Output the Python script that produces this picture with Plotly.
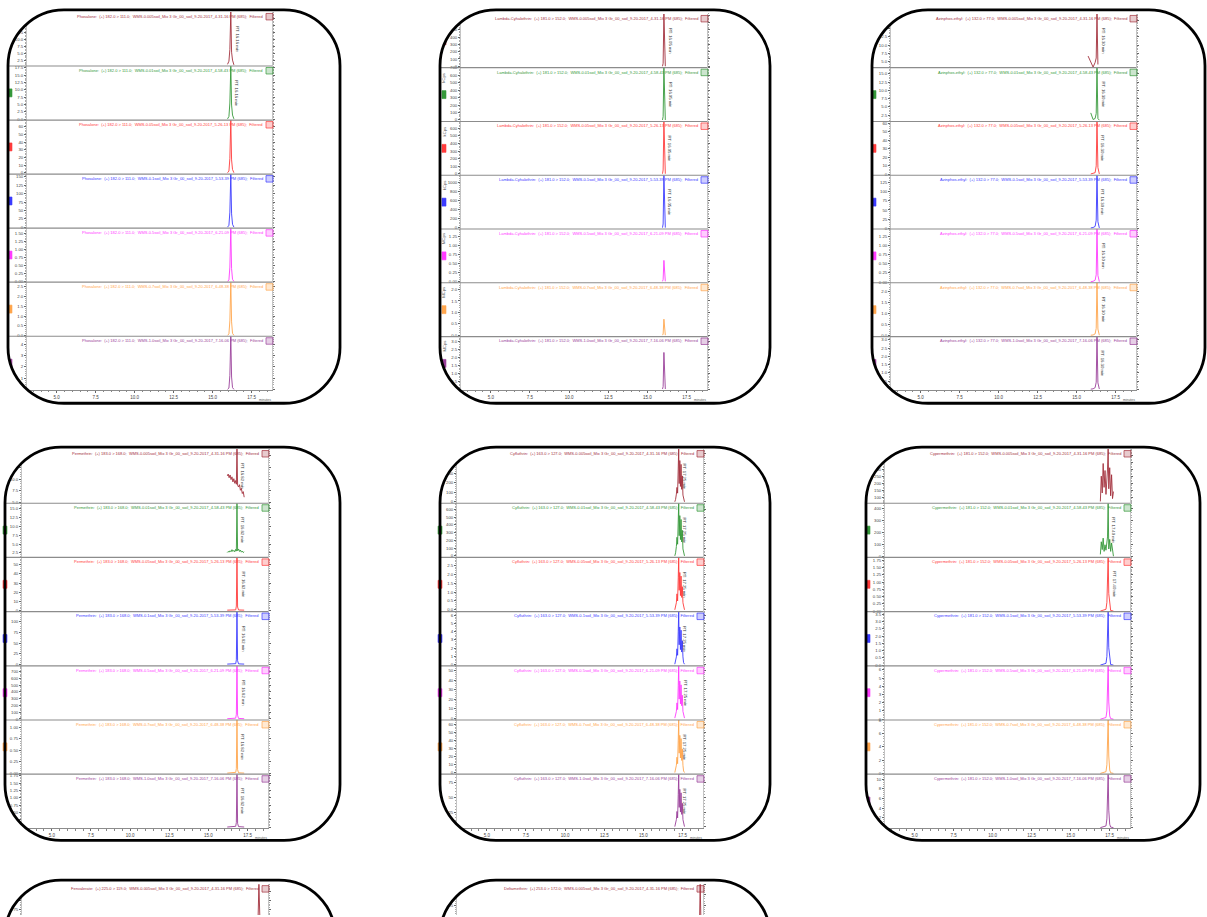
import plotly.graph_objects as go

W, H = 1207, 917

# ---------------- shared settings ----------------
time_range = [3.1, 18.8]
time_ticks = [5.0, 7.5, 10.0, 12.5, 15.0, 17.5]

samples = ["WMS-0.005soil", "WMS-0.01soil", "WMS-0.05soil", "WMS-0.1soil",
           "WMS-0.5soil", "WMS-0.7soil", "WMS-1.0soil"]
acquired = ["4-31-16 PM", "4-58-43 PM", "5-26-13 PM", "5-53-39 PM",
            "6-21-09 PM", "6-48-38 PM", "7-16-06 PM"]
trace_colors = ["#a3303c", "#35993a", "#ff3b3b", "#3b3bff",
                "#ff3bff", "#ffa64d", "#9a3f9a"]

# ---------------- Phosalone ----------------
phosalone_rt = 16.16
phosalone_times = [15.95, 16.04, 16.10, 16.16, 16.21, 16.27, 16.36]
phosalone_counts = [
    [1.2, 2.3, 6.5, 19.8, 5.5, 2.7, 1.0],
    [0.1, 0.9, 5.5, 18.1, 4.8, 1.4, 0.1],
    [0.3, 2.5, 19.0, 69.0, 17.0, 4.5, 0.3],
    [0.5, 6.0, 45.0, 158.0, 40.0, 9.0, 0.5],
    [0.004, 0.05, 0.45, 1.66, 0.40, 0.07, 0.004],
    [0.006, 0.08, 0.75, 2.74, 0.70, 0.11, 0.006],
    [0.01, 0.13, 1.25, 4.7, 1.1, 0.17, 0.01],
]
phosalone_units = ["kCps", "kCps", "kCps", "kCps", "MCps", "MCps", "MCps"]
phosalone_step = [2.5, 2.5, 10, 25, 0.25, 0.5, 1]
phosalone_floor = [0.6, -0.3, -1.5, -2.5, -0.02, -0.04, -0.07]
phosalone_ceiling = [None] * 7

# ---------------- Lambda-Cyhalothrin ----------------
lambda_rt = 16.05
lambda_times = [15.96, 16.00, 16.05, 16.09, 16.14]
lambda_counts = [
    [0, 40, 720, 60, 0],
    [0, 45, 700, 55, 0],
    [0, 50, 690, 60, 0],
    [0, 80, 1150, 90, 0],
    [0, 0.05, 0.58, 0.06, 0],
    [0, 0.05, 0.70, 0.06, 0],
    [0, 0.15, 2.30, 0.18, 0],
]
lambda_units = ["kCps", "kCps", "kCps", "kCps", "MCps", "MCps", "MCps"]
lambda_step = [100, 100, 100, 200, 0.25, 0.5, 0.5]
lambda_floor = [-20, -20, -20, -30, -0.04, -0.06, -0.08]
lambda_ceiling = [None, None, None, None, 1.45, 2.3, 3.3]

# ---------------- Azinphos-ethyl ----------------
azinphos_rt = 16.30
azinphos_times = [15.73, 15.90, 16.05, 16.18, 16.25, 16.30, 16.36, 16.45]
azinphos_counts = [
    [6.6, 5.0, 3.2, 4.6, 6.0, 19.6, 4.0, None],
    [None, 3.2, 1.2, 1.5, 3.0, 16.9, 1.5, 1.0],
    [None, 0.5, 1.0, 2.0, 10.0, 62.0, 8.0, 0.5],
    [None, 1.0, 2.0, 5.0, 22.0, 145.0, 18.0, 1.0],
    [None, 0.01, 0.02, 0.05, 0.20, 1.45, 0.18, 0.01],
    [None, 0.02, 0.03, 0.08, 0.33, 2.40, 0.30, 0.02],
    [None, 0.02, 0.04, 0.11, 0.44, 3.20, 0.40, 0.03],
]
azinphos_units = ["kCps", "kCps", "kCps", "kCps", "MCps", "MCps", "MCps"]
azinphos_step = [2.5, 2.5, 10, 25, 0.25, 0.5, 0.5]
azinphos_floor = [3.0, 0.6, -1.0, -2.0, -0.02, -0.04, -0.05]
azinphos_ceiling = [None] * 7

# ---------------- Permethrin ----------------
permethrin_rt = 16.82
permethrin_times = [16.20, 16.26, 16.32, 16.38, 16.44, 16.50, 16.56, 16.62, 16.68, 16.74,
                    16.78, 16.82, 16.86, 16.92, 16.98, 17.04, 17.10, 17.16, 17.22, 17.28]
permethrin_counts = [
    [10.7, 11.1, 10.3, 10.9, 9.9, 10.5, 9.4, 10.1, 9.1, 9.7,
     8.9, 16.5, 8.7, 8.3, 8.8, 7.6, 8.0, 6.9, 7.3, 6.1],
    [2.6, 2.9, 2.7, 3.1, 2.8, 3.4, 2.9, 3.2, 2.8, 3.5,
     3.0, 16.6, 3.1, 3.6, 2.9, 3.3, 2.7, 3.0, 2.6, 2.8],
    [0.6, None, None, None, None, None, None, None, None, 0.9,
     5.0, 57.8, 4.0, 0.8, None, None, None, None, None, 0.6],
    [1.0, None, None, None, None, None, None, None, None, 2.0,
     11.0, 124.0, 9.0, 1.5, None, None, None, None, None, 1.0],
    [4, None, None, None, None, None, None, None, None, 12,
     70, 785, 55, 8, None, None, None, None, None, 4],
    [0.004, None, None, None, None, None, None, None, None, 0.02,
     0.10, 1.16, 0.08, 0.01, None, None, None, None, None, 0.004],
    [0.006, None, None, None, None, None, None, None, None, 0.03,
     0.16, 1.80, 0.13, 0.02, None, None, None, None, None, 0.006],
]
permethrin_units = ["kCps", "kCps", "kCps", "kCps", "kCps", "MCps", "MCps"]
permethrin_step = [2.5, 2.5, 10, 25, 100, 0.25, 0.25]
permethrin_floor = [4.8, 1.2, -1.0, -3.0, -15.0, -0.02, -0.04]
permethrin_ceiling = [None] * 7

# ---------------- Cyfluthrin ----------------
cyfluthrin_rt = 17.25
cyfluthrin_times = [17.00, 17.05, 17.10, 17.14, 17.18, 17.22, 17.25, 17.28,
                    17.32, 17.36, 17.40, 17.44, 17.48, 17.52, 17.56, 17.62]
cyfluthrin_counts = [
    [0, 25, 80, 150, 90, 310, 550, 190, 430, 160, 390, 130, 270, 70, 25, 0],
    [0, 40, 120, 240, 150, 420, 680, 260, 520, 210, 470, 180, 330, 90, 30, 0],
    [0, 0.15, 0.4, 0.9, 0.5, 1.8, 2.95, 1.1, 2.1, 0.8, 1.9, 0.7, 1.3, 0.4, 0.1, 0],
    [0, 0.3, 0.9, 1.9, 1.1, 4.0, 6.5, 2.4, 4.6, 1.8, 4.2, 1.5, 2.9, 0.9, 0.2, 0],
    [0, 3, 7, 16, 9, 34, 55, 20, 39, 15, 35, 13, 24, 7, 2, 0],
    [0, 3, 9, 19, 11, 40, 65, 24, 46, 18, 42, 15, 29, 9, 2, 0],
    [0, 4, 12, 26, 15, 55, 90, 33, 64, 25, 58, 21, 40, 12, 3, 0],
]
cyfluthrin_units = ["kCps"] * 7
cyfluthrin_step = [100, 100, 0.5, 1, 10, 10, 25]
cyfluthrin_floor = [-15, -20, -0.1, -0.2, -2, -2, -3]
cyfluthrin_ceiling = [None] * 7

# ---------------- Cypermethrin ----------------
cypermethrin_rt = 17.40
cypermethrin_times = [16.90, 16.96, 17.02, 17.08, 17.14, 17.20, 17.26, 17.32,
                      17.36, 17.40, 17.44, 17.50, 17.56, 17.62, 17.68, 17.74]
cypermethrin_counts = [
    [70, 250, 130, 340, 170, 290, 120, 210, 300, 443, 160, 310, 110, 260, 90, 140],
    [15, 120, 55, 150, 40, 95, 50, 130, 160, 440, 60, 140, 40, 110, 30, 0],
    [0, None, None, None, None, None, 0.06, 0.30, 0.90, 1.85, 0.60, 0.12, 0.02, None, None, 0],
    [0, None, None, None, None, None, 0.12, 0.60, 1.80, 3.70, 1.20, 0.24, 0.04, None, None, 0],
    [0, None, None, None, None, None, 0.2, 1.0, 3.1, 6.5, 2.1, 0.4, 0.07, None, None, 0],
    [0, None, None, None, None, None, 0.25, 1.3, 3.9, 8.0, 2.6, 0.5, 0.09, None, None, 0],
    [0, None, None, None, None, None, 0.35, 1.8, 5.3, 11.0, 3.6, 0.7, 0.12, None, None, 0],
]
cypermethrin_units = ["kCps", "kCps", "MCps", "MCps", "MCps", "MCps", "MCps"]
cypermethrin_step = [50, 100, 0.25, 0.5, 1, 2, 2]
cypermethrin_floor = [57, -10, -0.02, -0.05, -0.1, -0.12, -0.15]
cypermethrin_ceiling = [None] * 7

# ---------------- Fenvalerate / Deltamethrin (first trace only) ----------------
fenvalerate_rt = 18.22
fenvalerate_times = [18.05, 18.15, 18.22, 18.30, 18.40]
fenvalerate_counts = [[0, 0.2, 1.46, 0.2, 0]]
fenvalerate_units = ["MCps"]
fenvalerate_step = [0.25]
fenvalerate_floor = [-0.05]
fenvalerate_ceiling = [None]

deltamethrin_rt = 18.62
deltamethrin_times = [18.50, 18.57, 18.62, 18.68, 18.75]
deltamethrin_counts = [[0, 3, 25, 3, 0]]
deltamethrin_units = ["kCps"]
deltamethrin_step = [5]
deltamethrin_floor = [-0.5]
deltamethrin_ceiling = [None]

panels = [
    dict(name="Phosalone", mrm="182.0 > 111.0", rt=phosalone_rt, times=phosalone_times,
         counts=phosalone_counts, units=phosalone_units, step=phosalone_step,
         floor=phosalone_floor, ceiling=phosalone_ceiling, rt_strips=[0, 1]),
    dict(name="Lambda-Cyhalothrin", mrm="181.0 > 152.0", rt=lambda_rt, times=lambda_times,
         counts=lambda_counts, units=lambda_units, step=lambda_step,
         floor=lambda_floor, ceiling=lambda_ceiling, rt_strips=[0, 1, 2, 3]),
    dict(name="Azinphos-ethyl", mrm="132.0 > 77.0", rt=azinphos_rt, times=azinphos_times,
         counts=azinphos_counts, units=azinphos_units, step=azinphos_step,
         floor=azinphos_floor, ceiling=azinphos_ceiling, rt_strips=list(range(7))),
    dict(name="Permethrin", mrm="183.0 > 168.0", rt=permethrin_rt, times=permethrin_times,
         counts=permethrin_counts, units=permethrin_units, step=permethrin_step,
         floor=permethrin_floor, ceiling=permethrin_ceiling, rt_strips=list(range(7))),
    dict(name="Cyfluthrin", mrm="163.0 > 127.0", rt=cyfluthrin_rt, times=cyfluthrin_times,
         counts=cyfluthrin_counts, units=cyfluthrin_units, step=cyfluthrin_step,
         floor=cyfluthrin_floor, ceiling=cyfluthrin_ceiling, rt_strips=list(range(7))),
    dict(name="Cypermethrin", mrm="181.0 > 152.0", rt=cypermethrin_rt, times=cypermethrin_times,
         counts=cypermethrin_counts, units=cypermethrin_units, step=cypermethrin_step,
         floor=cypermethrin_floor, ceiling=cypermethrin_ceiling, rt_strips=[1, 2]),
    dict(name="Fenvalerate", mrm="225.0 > 119.0", rt=fenvalerate_rt, times=fenvalerate_times,
         counts=fenvalerate_counts, units=fenvalerate_units, step=fenvalerate_step,
         floor=fenvalerate_floor, ceiling=fenvalerate_ceiling, rt_strips=[]),
    dict(name="Deltamethrin", mrm="253.0 > 172.0", rt=deltamethrin_rt, times=deltamethrin_times,
         counts=deltamethrin_counts, units=deltamethrin_units, step=deltamethrin_step,
         floor=deltamethrin_floor, ceiling=deltamethrin_ceiling, rt_strips=[]),
]

# frame (left, top, right, bottom), plot left/right, first strip top, last strip bottom  [px]
frames = [
    (8, 8, 340, 403, 27, 272, 10, 390),
    (440, 8, 770, 403, 461, 707, 12, 390),
    (872, 8, 1205, 403, 891, 1136, 12, 390),
    (5, 447, 340, 842, 22, 268, 449, 830),
    (440, 447, 770, 842, 457, 703, 449, 830),
    (866, 447, 1200, 842, 885, 1130, 449, 830),
    (5, 882, 335, 1277, 22, 268, 886, 1266),
    (440, 882, 770, 1277, 457, 703, 886, 1266),
]
RADIUS = 56
FONT = "Liberation Sans, Arial, sans-serif"


def fx(px):
    return px / W


def fy(py):
    return 1 - py / H


def pt(x, y):
    return f"{fx(x):.5f},{fy(y):.5f}"


def inside(frame, x, y):
    l, t, r, b = frame[:4]
    rad = RADIUS
    cx = min(max(x, l + rad), r - rad)
    cy = min(max(y, t + rad), b - rad)
    return (x - cx) ** 2 + (y - cy) ** 2 <= rad ** 2 and l <= x <= r and t <= y <= b


def rgba(hex_color, a):
    h = hex_color.lstrip("#")
    return f"rgba({int(h[0:2], 16)},{int(h[2:4], 16)},{int(h[4:6], 16)},{a})"


def decimals(step):
    s = f"{step}"
    return len(s.split(".")[1]) if "." in s and not s.endswith(".0") else 0


fig = go.Figure()
layout = {}
shapes_low, shapes_high, annotations = [], [], []

n = 0
for panel, frame in zip(panels, frames):
    l, t, r, b, pl, pr, st, sb = frame
    sh = (sb - st) / 7
    for i, vals in enumerate(panel["counts"]):
        top_px = st + i * sh
        bot_px = top_px + sh
        if top_px >= H:
            break
        n += 1
        xa = "x" if n == 1 else f"x{n}"
        ya = "y" if n == 1 else f"y{n}"
        color = trace_colors[i]
        lo = panel["floor"][i]
        hi = panel["ceiling"][i]
        if hi is None:
            hi = max(v for v in vals if v is not None)
        vis_bot = min(bot_px, H)
        if bot_px > H:
            lo = hi - (hi - lo) * (H - top_px) / sh

        fig.add_trace(go.Scatter(
            x=panel["times"], y=vals, mode="lines", connectgaps=True,
            line=dict(color=color, width=0.9), xaxis=xa, yaxis=ya,
            showlegend=False, hoverinfo="skip"))

        last = (i == 6)
        xaxis = dict(domain=[fx(pl), fx(pr)], range=time_range, anchor=ya,
                     showgrid=False, zeroline=False, fixedrange=True)
        if last:
            xaxis.update(showline=True, linecolor="#8c8c8c", linewidth=1,
                         ticks="outside", ticklen=2, tickwidth=0.6, tickcolor="#666",
                         tickvals=time_ticks, tickformat=".1f",
                         tickfont=dict(family=FONT, size=4.5, color="#444"),
                         minor=dict(ticks="outside", ticklen=1.2, dtick=0.5,
                                    tickcolor="#888", tickwidth=0.6))
        else:
            xaxis.update(showline=False, showticklabels=False, ticks="")
        step = panel["step"][i]
        yaxis = dict(domain=[fy(vis_bot), fy(top_px)], range=[lo, hi], anchor=xa,
                     showgrid=False, zeroline=False, fixedrange=True,
                     showline=True, linecolor="#c4c4c4", linewidth=0.8, mirror="ticks",
                     ticks="outside", ticklen=2, tickwidth=0.6, tickcolor="#666",
                     dtick=step, tick0=0, tickformat=f".{decimals(step)}f",
                     tickfont=dict(family=FONT, size=4.3, color="#444"),
                     minor=dict(ticks="outside", ticklen=1, dtick=step / 5,
                                tickcolor="#aaa", tickwidth=0.5))
        layout["xaxis" if n == 1 else f"xaxis{n}"] = xaxis
        layout["yaxis" if n == 1 else f"yaxis{n}"] = yaxis

        # strip separator
        if not last and bot_px < H:
            shapes_low.append(dict(type="line", xref="paper", yref="paper",
                                   x0=fx(l), x1=fx(pr), y0=fy(bot_px), y1=fy(bot_px),
                                   line=dict(color="#8c8c8c", width=1.2)))

        # header line
        header = (f"{panel['name']}:  (+) {panel['mrm']};  {samples[i]}_Mix 3 Gr_00_soil_"
                  f"9-20-2017_{acquired[i]} (685);  Filtered")
        annotations.append(dict(xref="paper", yref="paper", x=fx(pr - 8), y=fy(top_px + 0.8),
                                xanchor="right", yanchor="top", showarrow=False, text=header,
                                borderpad=0, font=dict(family=FONT, size=4.0, color=color)))
        shapes_low.append(dict(type="rect", xref="paper", yref="paper",
                               x0=fx(pr - 6), x1=fx(pr + 1), y0=fy(top_px + 1.5), y1=fy(top_px + 8),
                               line=dict(color=color, width=0.7), fillcolor=rgba(color, 0.25)))

        # unit label and colour tag on the left
        ux, uy = pl - 17, top_px + 10
        if inside(frame, ux - 3, uy - 6) and top_px + 14 < H:
            annotations.append(dict(xref="paper", yref="paper", x=fx(ux), y=fy(uy),
                                    xanchor="center", yanchor="middle", showarrow=False,
                                    text=panel["units"][i], textangle=-90,
                                    font=dict(family=FONT, size=4.2, color="#555")))
        shapes_low.append(dict(type="rect", xref="paper", yref="paper",
                               x0=fx(pl - 19), x1=fx(pl - 15),
                               y0=fy(top_px + 31), y1=fy(top_px + 23),
                               line=dict(color=color, width=0.6), fillcolor=color))

        # retention time label next to the apex
        if i in panel["rt_strips"]:
            annotations.append(dict(xref=xa, yref=ya, x=panel["rt"], y=lo + (hi - lo) * 0.5,
                                    xanchor="left", yanchor="middle", xshift=1.5, showarrow=False,
                                    text=f"RT: {panel['rt']:.2f} min", textangle=90,
                                    font=dict(family=FONT, size=4.2, color="#333")))

    if sb < H:
        annotations.append(dict(xref="paper", yref="paper", x=fx(pr + 1), y=fy(sb + 6),
                                xanchor="right", yanchor="top", showarrow=False, text="minutes",
                                font=dict(family=FONT, size=3.4, color="#555")))

# rounded frames: white corner masks then the black outline
for frame in frames:
    l, t, r, b = frame[:4]
    rad = RADIUS
    k = 0.5523 * rad
    e = 8
    masks = [
        f"M{pt(l - e, t - e)} L{pt(l + rad, t - e)} L{pt(l + rad, t)} "
        f"C{pt(l + rad - k, t)} {pt(l, t + rad - k)} {pt(l, t + rad)} L{pt(l - e, t + rad)} Z",
        f"M{pt(r + e, t - e)} L{pt(r - rad, t - e)} L{pt(r - rad, t)} "
        f"C{pt(r - rad + k, t)} {pt(r, t + rad - k)} {pt(r, t + rad)} L{pt(r + e, t + rad)} Z",
        f"M{pt(l - e, b + e)} L{pt(l + rad, b + e)} L{pt(l + rad, b)} "
        f"C{pt(l + rad - k, b)} {pt(l, b - rad + k)} {pt(l, b - rad)} L{pt(l - e, b - rad)} Z",
        f"M{pt(r + e, b + e)} L{pt(r - rad, b + e)} L{pt(r - rad, b)} "
        f"C{pt(r - rad + k, b)} {pt(r, b - rad + k)} {pt(r, b - rad)} L{pt(r + e, b - rad)} Z",
    ]
    for m in masks:
        shapes_high.append(dict(type="path", xref="paper", yref="paper", path=m,
                                fillcolor="white", line=dict(width=0), layer="above"))
    outline = (f"M{pt(l + rad, t)} L{pt(r - rad, t)} "
               f"C{pt(r - rad + k, t)} {pt(r, t + rad - k)} {pt(r, t + rad)} "
               f"L{pt(r, b - rad)} "
               f"C{pt(r, b - rad + k)} {pt(r - rad + k, b)} {pt(r - rad, b)} "
               f"L{pt(l + rad, b)} "
               f"C{pt(l + rad - k, b)} {pt(l, b - rad + k)} {pt(l, b - rad)} "
               f"L{pt(l, t + rad)} "
               f"C{pt(l, t + rad - k)} {pt(l + rad - k, t)} {pt(l + rad, t)} Z")
    shapes_high.append(dict(type="path", xref="paper", yref="paper", path=outline,
                            line=dict(color="black", width=2.8), layer="above"))

for s in shapes_low:
    s["layer"] = "above"

fig.update_layout(
    width=W, height=H, margin=dict(l=0, r=0, t=0, b=0),
    paper_bgcolor="white", plot_bgcolor="rgba(0,0,0,0)",
    shapes=shapes_low + shapes_high, annotations=annotations,
    showlegend=False, **layout)

fig.write_html("out.html", config={"displayModeBar": False})
